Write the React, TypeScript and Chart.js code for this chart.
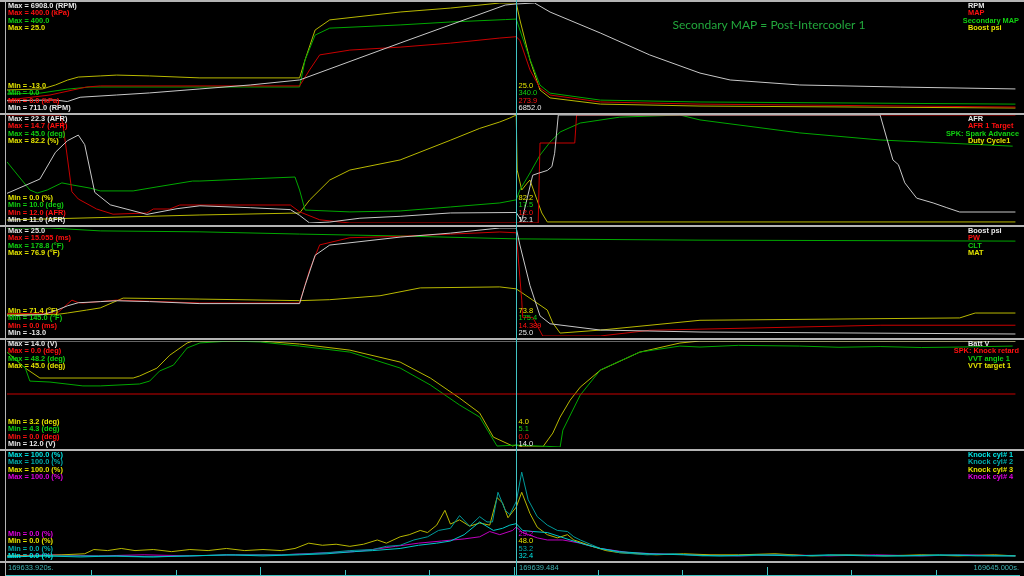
import React, { useEffect, useRef } from "react";
import { Chart, registerables } from "chart.js";

Chart.register(...registerables);

// ---------- time axis (seconds after START) ----------
const START = 169633.92;
const SPAN = 11.08;
const CURSOR_T = 5.564;
const BOTTOM_LABELS = ["169633.920s.", "169639.484", "169645.000s."];
const BOTTOM_TICKS = [0.923, 1.847, 2.77, 3.693, 4.617, 5.54, 6.463, 7.387, 8.31, 9.233, 10.157];
const BOTTOM_TICK_TALL = [false, false, true, false, false, true, false, false, true, false, false];
const TITLE = "Secondary MAP = Post-Intercooler 1";

// ---------- panel 1 ----------
const rpm = [[0,1250],[0.53,1290],[0.66,1200],[0.8,1450],[1.2,1580],[1.56,1700],[2.11,1930],[2.66,2160],[3.2,2450],[4.3,4590],[5.45,6790],[5.57,6852],[5.77,6908],[5.94,6385],[6.49,5170],[7.03,3900],[7.58,2850],[7.91,2450],[8.67,2160],[9.77,2040],[11.03,1930]];
const map = [[0,37],[0.47,56],[0.87,86],[1.02,90],[2.11,90],[3.2,90],[3.31,150],[3.42,206],[3.75,224],[4.3,235],[4.85,250],[5.39,269],[5.57,274],[5.61,260],[5.72,150],[5.83,82],[5.94,56],[6.49,30],[7.58,22],[11.03,11]];
const secMap = [[0,60],[0.36,63],[0.66,78],[0.91,86],[3.2,86],[3.26,187],[3.37,280],[3.53,306],[4.3,318],[4.85,329],[5.45,338],[5.57,340],[5.61,299],[5.72,190],[5.83,93],[5.94,63],[6.49,37],[7.58,30],[11.03,22]];
const boost = [[0,-5.9],[0.39,-5.5],[0.53,-4.1],[0.66,-2.4],[0.78,-1.3],[1.02,-0.9],[1.2,-0.6],[1.56,-0.9],[2.11,-1.6],[3.2,-1.6],[3.26,4.8],[3.37,15.4],[3.53,19.0],[4.3,21.8],[4.85,23.2],[5.39,25.0],[5.57,25.0],[5.61,19.0],[5.72,4.8],[5.83,-5.9],[5.94,-8.7],[6.49,-10.9],[7.58,-11.6],[11.03,-12.3]];

// ---------- panel 2 ----------
const afr = [[0,14.1],[0.36,15.6],[0.53,18.4],[0.66,19.6],[0.78,20.2],[0.85,19.2],[0.96,14.2],[1.13,12.9],[1.53,11.9],[1.86,12.5],[2.11,12.8],[2.66,12.6],[3.1,12.4],[3.2,11.8],[3.31,11.0],[3.53,11.1],[3.86,11.5],[4.3,11.7],[4.85,12.05],[5.57,12.1],[5.63,11.2],[5.75,16.0],[5.81,16.2],[5.91,16.5],[5.96,16.9],[5.99,18.3],[6.03,22.3],[9.55,22.3],[9.69,17.6],[9.75,17.1],[9.82,15.2],[9.95,13.6],[10.13,13.1],[10.28,12.6],[10.42,12.15],[11.03,12.15]];
const afrTarget = [[0,14.7],[0.58,14.7],[0.61,14.5],[0.71,12.78],[0.78,12.6],[0.98,12.35],[1.16,12.22],[1.53,12.25],[1.6,12.35],[1.78,12.35],[1.89,12.45],[3.1,12.45],[3.2,12.28],[3.42,12.08],[3.75,12.0],[5.81,12.0],[5.83,14.0],[6.21,14.0],[6.23,14.7],[11.03,14.7]];
const sparkAdv = [[0,29.8],[0.25,20.7],[0.33,19.7],[0.44,20.7],[0.6,23.0],[0.72,22.3],[0.91,21.3],[1.02,20.4],[1.38,20.4],[1.64,21.7],[2.03,23.6],[2.11,23.6],[2.66,24.3],[3.15,24.9],[3.2,20.7],[3.26,14.2],[3.75,13.6],[4.3,13.9],[4.85,15.2],[5.39,16.5],[5.57,17.5],[5.61,20.7],[5.72,26.2],[5.83,32.0],[5.94,36.2],[6.05,39.5],[6.27,42.4],[6.7,44.3],[7.36,45.0],[7.58,43.4],[8.67,39.2],[9.55,36.9],[11.0,34.9]];
const dutyCycle = [[0,2.3],[2.11,6.1],[3.2,7.6],[3.31,17.5],[3.53,32.7],[3.75,40.3],[4.3,48.0],[4.85,63.0],[5.17,72.0],[5.39,76.9],[5.5,79.9],[5.57,82.2],[5.58,40.3],[5.63,25.1],[5.69,30.4],[5.72,32.7],[5.77,22.8],[5.85,7.6],[5.91,0.8],[11.03,0.8]];

// ---------- panel 3 ----------
const pw = [[0,3.1],[0.55,3.2],[0.71,5.0],[0.77,4.7],[0.83,4.6],[1.2,5.0],[2.11,4.6],[3.2,4.6],[3.31,9.2],[3.42,12.7],[3.75,13.7],[4.3,13.9],[4.85,14.2],[5.39,14.5],[5.57,14.389],[5.63,5.0],[5.64,2.6],[5.75,2.6],[5.86,0],[6.49,0],[7.03,0.8],[9.55,1.5],[11.03,1.5]];
const clt = [[0,178.8],[0.47,178.8],[1.02,177.9],[2.11,177.6],[3.2,176.9],[4.3,176.3],[5.57,175.4],[7.58,175.0],[11.03,174.7]];
const mat = [[0,72.5],[0.55,72.5],[0.66,72.57],[0.87,72.72],[1.02,72.83],[1.27,73.33],[2.11,73.28],[3.2,73.2],[3.53,73.25],[4.08,73.45],[4.52,73.85],[5.39,73.9],[5.57,73.8],[5.75,73.23],[5.91,72.72],[5.97,72.06],[6.05,71.55],[6.49,71.7],[7.58,72.2],[10.42,72.32],[10.59,72.57],[11.03,72.57]];

// ---------- panel 4 ----------
const battV = [[0,14.0],[11.03,14.0]];
const knockRetard = [[0,0],[11.03,0]];
const vvtAngle = [[0,43.6],[0.2,37.0],[0.25,31.6],[0.47,31.2],[0.83,29.6],[1.02,29.6],[1.45,30.4],[1.56,31.6],[1.67,35.8],[1.82,38.2],[1.97,45.3],[2.11,47.4],[2.44,48.2],[2.77,47.8],[3.2,46.1],[3.75,43.6],[4.3,37.0],[4.63,30.0],[4.95,21.7],[5.17,16.7],[5.36,4.7],[5.57,5.1],[5.83,4.7],[6.05,4.3],[6.08,11.3],[6.27,25.8],[6.49,36.2],[6.92,43.6],[7.36,46.1],[7.58,45.7],[8.0,46.4],[8.67,46.1],[9.1,45.6],[9.55,45.9],[10.0,45.5],[10.42,45.7],[11.0,46.1]];
const vvtTarget = [[0,40.6],[0.2,34.3],[0.36,30.4],[1.38,30.4],[1.45,31.2],[1.64,34.3],[1.78,39.4],[1.97,44.2],[2.03,45.0],[2.77,45.0],[3.2,43.8],[3.75,41.4],[4.3,36.7],[4.63,30.4],[4.95,22.5],[5.17,16.6],[5.32,7.1],[5.53,3.6],[5.57,4.0],[5.64,3.2],[5.86,3.2],[5.97,8.7],[6.05,15.0],[6.16,21.7],[6.27,26.8],[6.49,33.5],[6.92,40.6],[7.36,44.2],[7.58,45.0],[11.03,45.0]];

// ---------- panel 5 ----------
const knock1 = [[0,1],[0.4,2],[0.8,1],[1.2,2],[1.6,1],[2.0,2],[2.4,3],[2.8,2],[3.2,3],[3.5,4],[3.8,6],[4.0,7],[4.3,9],[4.5,12],[4.7,14],[4.85,16],[5.0,22],[5.17,34],[5.32,26],[5.42,28],[5.5,31],[5.57,32.4],[5.64,26],[5.75,25],[5.91,24],[6.16,17],[6.35,12],[6.49,9],[6.7,6],[7.03,4],[7.4,3],[7.8,2],[8.2,3],[8.6,2],[9.0,3],[9.4,2],[9.8,2],[10.2,3],[10.6,2],[11.03,2]];
const knock2 = [[0,1],[0.5,2],[1.0,2],[1.5,1],[2.0,2],[2.5,3],[3.0,3],[3.3,4],[3.5,5],[3.75,7],[4.0,8],[4.15,11],[4.3,12],[4.45,17],[4.6,20],[4.72,26],[4.85,28],[4.95,40],[5.06,30],[5.17,39],[5.25,34],[5.31,34],[5.37,62],[5.45,45],[5.5,41],[5.57,53.2],[5.63,81],[5.7,55],[5.8,39],[5.91,31],[6.02,26],[6.13,25],[6.2,20],[6.27,17],[6.38,13],[6.49,9],[6.6,7],[6.7,5],[7.0,3],[7.3,4],[7.6,2],[8.0,2],[8.4,3],[8.8,2],[9.2,3],[9.6,2],[10.0,2],[10.4,3],[10.8,2],[11.03,2]];
const knock3 = [[0,2],[0.3,2],[0.6,3],[0.85,4],[0.95,8],[1.1,7],[1.25,9],[1.4,7],[1.6,8],[1.8,6],[2.0,8],[2.2,7],[2.4,9],[2.6,7],[2.8,8],[3.0,7],[3.15,9],[3.3,14],[3.45,12],[3.6,13],[3.75,11],[3.9,13],[4.05,17],[4.15,14],[4.3,20],[4.4,22],[4.52,26],[4.6,24],[4.7,31],[4.79,45],[4.85,32],[4.95,36],[5.06,30],[5.17,33],[5.28,31],[5.36,57],[5.42,52],[5.48,38],[5.57,48],[5.63,62],[5.72,42],[5.8,29],[5.91,22],[6.02,19],[6.13,22],[6.2,17],[6.27,15],[6.4,11],[6.55,7],[6.7,5],[6.9,4],[7.1,3],[7.4,4],[7.7,3],[8.0,3],[8.4,4],[8.8,2],[9.2,3],[9.6,2],[10.0,3],[10.4,2],[10.8,3],[11.03,2]];
const knock4 = [[0,2],[0.5,3],[1.0,2],[1.5,3],[2.0,2],[2.5,3],[3.0,3],[3.5,5],[3.8,6],[4.0,8],[4.25,11],[4.5,14],[4.75,16],[5.0,18],[5.17,20],[5.28,25],[5.39,22],[5.53,26],[5.57,29.2],[5.64,24],[5.8,19],[5.91,17],[6.08,17],[6.27,14],[6.49,9],[6.81,5],[7.1,4],[7.5,3],[8.0,2],[8.5,3],[9.0,2],[9.5,3],[10.0,2],[10.5,3],[11.03,2]];

// ---------- colours ----------
const C = {
  white: { line: "#c8c8c8", text: "#e8e8e8" },
  red: { line: "#c80000", text: "#ff1010" },
  green: { line: "#00a800", text: "#10d010" },
  yellow: { line: "#b8b800", text: "#e4e400" },
  cyan: { line: "#00c8c8", text: "#00e4e4" },
  teal: { line: "#009a9a", text: "#00acac" },
  magenta: { line: "#c000c0", text: "#e000e0" },
};
const SEP_COLOR = "#b4b4b4";
const CURSOR_COLOR = "#40c4c4";
const AXIS_TEXT = "#40b4b4";
const TITLE_COLOR = "#22a83c";

type Series = {
  name: string; data: number[][]; min: number; max: number;
  maxText: string; minText: string; cur: string; col: { line: string; text: string };
};

const PANELS: { top: number; height: number; padTop: number; padBottom: number; labelBottom: number; series: Series[] }[] = [
  {
    top: 0, height: 113, padTop: 3, padBottom: 3, labelBottom: 113,
    series: [
      { name: "RPM", data: rpm, min: 711, max: 6908, maxText: "Max = 6908.0 (RPM)", minText: "Min = 711.0 (RPM)", cur: "6852.0", col: C.white },
      { name: "MAP", data: map, min: 0, max: 400, maxText: "Max = 400.0 (kPa)", minText: "Min = 0.0 (kPa)", cur: "273.9", col: C.red },
      { name: "Secondary MAP", data: secMap, min: 0, max: 400, maxText: "Max = 400.0", minText: "Min = 0.0", cur: "340.0", col: C.green },
      { name: "Boost psi", data: boost, min: -13, max: 25, maxText: "Max = 25.0", minText: "Min = -13.0", cur: "25.0", col: C.yellow },
    ],
  },
  {
    top: 113, height: 112, padTop: 2, padBottom: 2, labelBottom: 112,
    series: [
      { name: "AFR", data: afr, min: 11, max: 22.3, maxText: "Max = 22.3 (AFR)", minText: "Min = 11.0 (AFR)", cur: "12.1", col: C.white },
      { name: "AFR 1 Target", data: afrTarget, min: 12, max: 14.7, maxText: "Max = 14.7 (AFR)", minText: "Min = 12.0 (AFR)", cur: "12.0", col: C.red },
      { name: "SPK: Spark Advance", data: sparkAdv, min: 10, max: 45, maxText: "Max = 45.0 (deg)", minText: "Min = 10.0 (deg)", cur: "17.5", col: C.green },
      { name: "Duty Cycle1", data: dutyCycle, min: 0, max: 82.2, maxText: "Max = 82.2 (%)", minText: "Min = 0.0 (%)", cur: "82.2", col: C.yellow },
    ],
  },
  {
    top: 225, height: 113, padTop: 3, padBottom: 2, labelBottom: 113,
    series: [
      { name: "Boost psi", data: boost, min: -13, max: 25, maxText: "Max = 25.0", minText: "Min = -13.0", cur: "25.0", col: C.white },
      { name: "PW", data: pw, min: 0, max: 15.055, maxText: "Max = 15.055 (ms)", minText: "Min = 0.0 (ms)", cur: "14.389", col: C.red },
      { name: "CLT", data: clt, min: 145, max: 178.8, maxText: "Max = 178.8 (°F)", minText: "Min = 145.0 (°F)", cur: "175.4", col: C.green },
      { name: "MAT", data: mat, min: 71.4, max: 76.9, maxText: "Max = 76.9 (°F)", minText: "Min = 71.4 (°F)", cur: "73.8", col: C.yellow },
    ],
  },
  {
    top: 338, height: 111, padTop: 3, padBottom: 2, labelBottom: 111,
    series: [
      { name: "Batt V", data: battV, min: 12, max: 14, maxText: "Max = 14.0 (V)", minText: "Min = 12.0 (V)", cur: "14.0", col: C.white },
      { name: "SPK: Knock retard", data: knockRetard, min: -1, max: 1, maxText: "Max = 0.0 (deg)", minText: "Min = 0.0 (deg)", cur: "0.0", col: C.red },
      { name: "VVT angle 1", data: vvtAngle, min: 4.3, max: 48.2, maxText: "Max = 48.2 (deg)", minText: "Min = 4.3 (deg)", cur: "5.1", col: C.green },
      { name: "VVT target 1", data: vvtTarget, min: 3.2, max: 45, maxText: "Max = 45.0 (deg)", minText: "Min = 3.2 (deg)", cur: "4.0", col: C.yellow },
    ],
  },
  {
    top: 449, height: 127, padTop: 3, padBottom: 18, labelBottom: 112,
    series: [
      { name: "Knock cyl# 1", data: knock1, min: 0, max: 100, maxText: "Max = 100.0 (%)", minText: "Min = 0.0 (%)", cur: "32.4", col: C.cyan },
      { name: "Knock cyl# 2", data: knock2, min: 0, max: 100, maxText: "Max = 100.0 (%)", minText: "Min = 0.0 (%)", cur: "53.2", col: C.teal },
      { name: "Knock cyl# 3", data: knock3, min: 0, max: 100, maxText: "Max = 100.0 (%)", minText: "Min = 0.0 (%)", cur: "48.0", col: C.yellow },
      { name: "Knock cyl# 4", data: knock4, min: 0, max: 100, maxText: "Max = 100.0 (%)", minText: "Min = 0.0 (%)", cur: "29.2", col: C.magenta },
    ],
  },
];

const BOLD = 'bold 7.4px "Liberation Sans", Arial, sans-serif';
const REG = '7.5px "Liberation Sans", Arial, sans-serif';

function makeOverlay(panelIndex: number) {
  const panel = PANELS[panelIndex];
  return {
    id: "overlay" + panelIndex,
    afterDraw(chart: any) {
      const ctx: CanvasRenderingContext2D = chart.ctx;
      const W = chart.width;
      const H = chart.height;
      const xs = chart.scales.x;
      ctx.save();
      ctx.fillStyle = SEP_COLOR;
      ctx.fillRect(0, 0, W, 2);
      ctx.fillRect(5, 0, 1, H);
      if (panelIndex === PANELS.length - 1) ctx.fillRect(0, panel.labelBottom, W, 2);

      ctx.textBaseline = "middle";
      const cx = Math.round(xs.getPixelForValue(CURSOR_T)) + 0.5;
      panel.series.forEach((s, i) => {
        ctx.fillStyle = s.col.text;
        ctx.font = BOLD;
        ctx.textAlign = "left";
        const yTop = 5.7 + i * 7.5;
        ctx.fillText(s.maxText, 8, yTop);
        const w = ctx.measureText(s.name).width;
        ctx.fillText(s.name, Math.min(968, 1019 - w), yTop);
        const yBot = panel.labelBottom - 5 - i * 7.5;
        ctx.fillText(s.minText, 8, yBot);
        ctx.font = REG;
        ctx.fillText(s.cur, cx + 2, yBot);
      });

      if (panelIndex === 0) {
        ctx.font = '12px Lato, "Open Sans", sans-serif';
        ctx.fillStyle = TITLE_COLOR;
        ctx.textAlign = "center";
        ctx.fillText(TITLE, 769, 25);
      }

      if (panelIndex === PANELS.length - 1) {
        const yb = H - 1;
        ctx.fillStyle = CURSOR_COLOR;
        ctx.fillRect(6, yb, xs.right - 6, 1);
        BOTTOM_TICKS.forEach((t, k) => {
          const px = Math.round(xs.getPixelForValue(t));
          const len = BOTTOM_TICK_TALL[k] ? 8 : 5;
          ctx.fillRect(px, yb - len, 1, len);
        });
        ctx.font = REG;
        ctx.fillStyle = AXIS_TEXT;
        ctx.textAlign = "left";
        const ty = panel.labelBottom + 6.5;
        ctx.fillText(BOTTOM_LABELS[0], 8, ty);
        ctx.fillText(BOTTOM_LABELS[1], cx + 2.5, ty);
        ctx.textAlign = "right";
        ctx.fillText(BOTTOM_LABELS[2], 1019, ty);
      }

      ctx.strokeStyle = CURSOR_COLOR;
      ctx.lineWidth = 1;
      ctx.beginPath();
      ctx.moveTo(cx, 0);
      ctx.lineTo(cx, H);
      ctx.stroke();
      ctx.restore();
    },
  };
}

function Panel({ index }: { index: number }) {
  const ref = useRef<HTMLCanvasElement | null>(null);
  const panel = PANELS[index];
  useEffect(() => {
    const scales: any = {
      x: { type: "linear", min: 0, max: SPAN, display: false },
    };
    panel.series.forEach((s, i) => {
      scales["y" + i] = { type: "linear", min: s.min, max: s.max, display: false };
    });
    const chart = new Chart(ref.current as HTMLCanvasElement, {
      type: "line",
      data: {
        datasets: panel.series.map((s, i) => ({
          label: s.name,
          data: s.data.map(([x, y]) => ({ x, y })),
          borderColor: s.col.line,
          backgroundColor: s.col.line,
          borderWidth: 1,
          pointRadius: 0,
          tension: 0,
          fill: false,
          yAxisID: "y" + i,
        })),
      },
      options: {
        animation: false,
        responsive: false,
        devicePixelRatio: 1,
        events: [],
        layout: { padding: { left: 7, right: 4, top: panel.padTop, bottom: panel.padBottom } },
        scales,
        plugins: { legend: { display: false }, tooltip: { enabled: false }, title: { display: false } },
      },
      plugins: [makeOverlay(index)],
    } as any);
    return () => chart.destroy();
  }, []);
  return (
    <canvas
      ref={ref}
      width={1024}
      height={panel.height}
      style={{ position: "absolute", left: 0, top: panel.top, width: 1024, height: panel.height, display: "block" }}
    />
  );
}

export default function App() {
  return (
    <div style={{ position: "fixed", left: 0, top: 0, width: 1024, height: 576, background: "#000", overflow: "hidden" }}>
      {PANELS.map((_, i) => (
        <Panel key={i} index={i} />
      ))}
    </div>
  );
}
